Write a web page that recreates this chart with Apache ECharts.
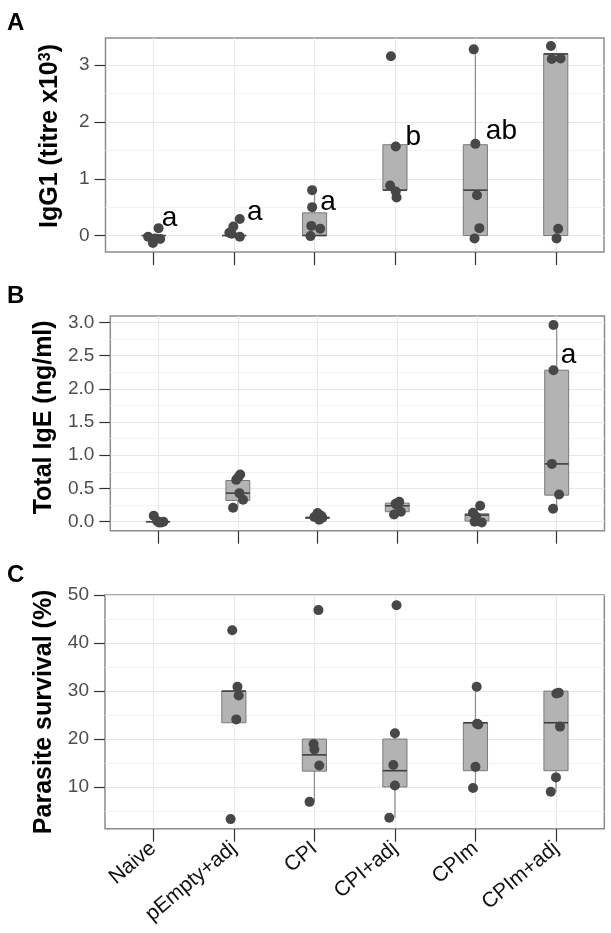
<!DOCTYPE html>
<html>
<head>
<meta charset="utf-8">
<script src="https://cdn.jsdelivr.net/npm/echarts@6/dist/echarts.min.js"></script>
<style>
html, body {margin: 0; padding: 0; background: #fff;}
#chart {width: 611px; height: 933px;}
</style>
</head>
<body>
<div id="chart"></div>
<script>
var categories = ['Naive', 'pEmpty+adj', 'CPI', 'CPI+adj', 'CPIm', 'CPIm+adj'];
var catPos = [0, 1, 2, 3, 4, 5];

// A: IgG1 titre (x10^3) -- box = [min, q1, median, q3, max]
var igg1Box = [[0, 0, 0, 0, 0], [0, 0, 0, 0, 0], [0, 0, 0, 0.4, 0.8], [0.8, 0.8, 0.8, 1.6, 1.6], [0, 0, 0.8, 1.6, 3.28], [0, 0, 3.2, 3.2, 3.2]];
var igg1Jit = [[0.06, -0.07, 0.02, -0.01, 0.08], [-0.06, -0.01, 0.07, 0.07, -0.03], [-0.03, -0.03, -0.04, 0.07, -0.05], [-0.05, 0.01, -0.06, 0.01, 0.02], [-0.02, 0, 0.02, 0.05, -0.01], [-0.06, -0.05, 0.06, 0.03, 0.01]];
var igg1Val = [[0.13, -0.02, -0.05, -0.13, -0.06], [0.05, 0.16, 0.29, -0.02, 0.03], [0.80, 0.50, 0.17, 0.12, -0.01], [3.16, 1.57, 0.88, 0.775, 0.67], [3.28, 1.615, 0.71, 0.13, -0.05], [3.34, 3.11, 3.12, 0.12, -0.05]];
var igg1Ticks = [0, 1, 2, 3];
var igg1Minor = [0.5, 1.5, 2.5];
var igg1Letters = ['a', 'a', 'a', 'b', 'ab'];
var igg1LetterX = [0.10, 1.16, 2.07, 3.13, 4.13];
var igg1LetterY = [0.306, 0.412, 0.588, 1.727, 1.833];

// B: total IgE (ng/ml)
var igeBox = [[0, 0, 0, 0, 0], [0.21, 0.32, 0.43, 0.62, 0.71], [0.05, 0.05, 0.06, 0.07, 0.07], [0.15, 0.15, 0.24, 0.28, 0.30], [0, 0.01, 0.1, 0.12, 0.24], [0.2, 0.4, 0.87, 2.28, 2.96]];
var igeJit = [[-0.055, -0.013, 0.04, 0.066, 0.01], [0.03, -0.02, 0.02, 0.065, -0.06, 0.005], [0, 0.045, 0.02, -0.04, 0.06], [0.025, 0.045, -0.04, 0, -0.02], [0.04, -0.05, -0.01, -0.03, 0.06], [-0.04, -0.04, -0.06, 0.03, -0.045]];
var igeVal = [[0.09, 0.01, -0.01, 0.0, -0.01], [0.71, 0.63, 0.43, 0.33, 0.21, 0.67], [0.13, 0.09, 0.03, 0.07, 0.06], [0.30, 0.15, 0.11, 0.25, 0.27], [0.24, 0.135, 0.075, 0.0, -0.01], [2.96, 2.28, 0.87, 0.41, 0.195]];
var igeTicks = [0, 0.5, 1, 1.5, 2, 2.5, 3];
var igeMinor = [0.25, 0.75, 1.25, 1.75, 2.25, 2.75];
var igeLetters = ['a'];
var igeLetterX = [5.05];
var igeLetterY = [2.50];

// C: parasite survival (%)
var survBox = [null, [23.4, 23.4, 30, 30, 30.9], [6.9, 13.3, 16.7, 20, 20], [3.6, 10, 13.4, 20, 21.2], [9.8, 13.4, 23.4, 23.4, 30.9], [9, 13.4, 23.4, 30, 30]];
var survJit = [[], [-0.02, 0.045, 0.06, 0.03, -0.04], [0.05, -0.01, 0, 0.06, -0.06], [0.02, 0, -0.02, 0, -0.07], [0.015, 0.035, 0.02, 0, -0.03], [0.005, 0.035, 0.05, 0, -0.065]];
var survVal = [[], [42.7, 30.9, 29.1, 24.1, 3.3], [46.9, 18.96, 17.85, 14.5, 6.9], [47.9, 21.2, 14.6, 10.3, 3.6], [30.9, 23.05, 23.2, 14.2, 9.8], [29.5, 29.65, 22.6, 12.0, 9.0]];
var survTicks = [10, 20, 30, 40, 50];
var survMinor = [5, 15, 25, 35, 45];

var FONT = '"Liberation Sans", Arial, Helvetica, sans-serif';
var chart = echarts.init(document.getElementById('chart'));

var grids = [
    {left: 105.5, top: 38, width: 498.5, height: 214},
    {left: 110.3, top: 316, width: 494.2, height: 214.7},
    {left: 105, top: 595, width: 499.3, height: 233.7}
];

function boxItem(params, api) {
    var x = api.value(0);
    var bot = api.coord([x - 0.15, api.value(2)]);
    var top = api.coord([x + 0.15, api.value(4)]);
    var mid = api.coord([x, api.value(3)]);
    var low = api.coord([x, api.value(1)]);
    var high = api.coord([x, api.value(5)]);
    var wStyle = {stroke: '#8c8c8c', lineWidth: 1.2};
    return {
        type: 'group',
        children: [
            {type: 'line', shape: {x1: low[0], y1: low[1], x2: low[0], y2: bot[1]}, style: wStyle},
            {type: 'line', shape: {x1: high[0], y1: top[1], x2: high[0], y2: high[1]}, style: wStyle},
            {type: 'rect', shape: {x: bot[0], y: top[1], width: top[0] - bot[0], height: bot[1] - top[1]},
                style: {fill: '#b3b3b3', stroke: '#7a7a7a', lineWidth: 1}},
            {type: 'line', shape: {x1: bot[0], y1: mid[1], x2: top[0], y2: mid[1]}, style: {stroke: '#3f3f3f', lineWidth: 1.6}}
        ]
    };
}

var xAxes = [], yAxes = [], series = [];

function addPanel(g, box, jit, val, ticks, minor, yMin, yMax, name, nameGap, namePad, fmt, letters, lx, ly) {
    xAxes.push({
        type: 'value', gridIndex: g, min: -0.6, max: 5.6,
        axisLine: {show: false, onZero: false},
        axisTick: {show: true, length: 13, customValues: catPos, lineStyle: {color: '#333', width: 1.2}},
        axisLabel: {
            show: g === 2, customValues: catPos, rotate: 40, margin: 17,
            fontFamily: FONT, fontSize: 21, color: '#111',
            formatter: function (v) { return categories[Math.round(v)]; }
        },
        splitLine: {show: true, lineStyle: {color: '#e8e8e8', width: 1.1}}
    });
    yAxes.push({
        type: 'value', gridIndex: g, min: yMin, max: yMax, position: 'left',
        axisLine: {show: false, onZero: false},
        axisTick: {show: true, length: 11, customValues: ticks, lineStyle: {color: '#333', width: 1.2}},
        axisLabel: {customValues: ticks, margin: 16, fontFamily: FONT, fontSize: 19, color: '#4d4d4d', formatter: fmt},
        splitLine: {show: true, lineStyle: {color: '#e8e8e8', width: 1.1}},
        name: name, nameLocation: 'middle', nameRotate: 90, nameGap: nameGap,
        nameTextStyle: {
            fontFamily: FONT, fontWeight: 'bold', fontSize: 25, color: '#000', padding: [0, 0, 0, namePad],
            rich: {sup: {fontFamily: FONT, fontWeight: 'bold', fontSize: 16, color: '#000', verticalAlign: 'top', padding: [0, 0, 10, 0]}}
        }
    });
    yAxes.push({
        type: 'value', gridIndex: g, min: yMin, max: yMax, position: 'left',
        axisLine: {show: false, onZero: false},
        axisTick: {show: false, customValues: minor},
        axisLabel: {show: false},
        splitLine: {show: true, lineStyle: {color: '#f3f3f3', width: 1}}
    });
    var boxData = [];
    var pts = [];
    for (var i = 0; i < categories.length; i++) {
        if (box[i]) boxData.push([catPos[i]].concat(box[i]));
        for (var k = 0; k < val[i].length; k++) pts.push([catPos[i] + jit[i][k], val[i][k]]);
    }
    series.push({
        type: 'custom', xAxisIndex: g, yAxisIndex: g * 2, renderItem: boxItem,
        encode: {x: 0, y: [1, 2, 3, 4, 5]}, data: boxData, z: 2, silent: true
    });
    series.push({
        type: 'scatter', xAxisIndex: g, yAxisIndex: g * 2, data: pts, symbolSize: 10,
        itemStyle: {color: '#474747', opacity: 1}, z: 3, silent: true
    });
    if (letters) {
        var ld = [];
        for (var j = 0; j < letters.length; j++) ld.push([lx[j], ly[j]]);
        series.push({
            type: 'custom', xAxisIndex: g, yAxisIndex: g * 2, data: ld, z: 4, silent: true,
            encode: {x: 0, y: 1},
            renderItem: function (params, api) {
                var p = api.coord([api.value(0), api.value(1)]);
                return {type: 'text', x: p[0], y: p[1], style: {
                    text: letters[params.dataIndex], font: '28px ' + FONT, fill: '#000',
                    align: 'left', verticalAlign: 'middle'}};
            }
        });
    }
}

addPanel(0, igg1Box, igg1Jit, igg1Val, igg1Ticks, igg1Minor, -0.29, 3.48,
    'IgG1 (titre x10{sup|3})', 42, 18, function (v) { return String(v); }, igg1Letters, igg1LetterX, igg1LetterY);
addPanel(1, igeBox, igeJit, igeVal, igeTicks, igeMinor, -0.135, 3.095,
    'Total IgE (ng/ml)', 53, 12, function (v) { return v.toFixed(1); }, igeLetters, igeLetterX, igeLetterY);
addPanel(2, survBox, survJit, survVal, survTicks, survMinor, 1.3, 50.05,
    'Parasite survival (%)', 41, 0, function (v) { return String(v); }, null);

var option = {
    animation: false,
    backgroundColor: '#fff',
    grid: grids.map(function (gr) {
        return {left: gr.left, top: gr.top, width: gr.width, height: gr.height, show: true,
            borderColor: '#8c8c8c', borderWidth: 1.5, backgroundColor: 'transparent',
            containLabel: false, outerBoundsMode: 'none'};
    }),
    xAxis: xAxes,
    yAxis: yAxes,
    series: series,
    graphic: [
        {type: 'text', left: 7, top: 11, style: {text: 'A', font: 'bold 24px ' + FONT, fill: '#000'}},
        {type: 'text', left: 7, top: 284, style: {text: 'B', font: 'bold 24px ' + FONT, fill: '#000'}},
        {type: 'text', left: 7, top: 563, style: {text: 'C', font: 'bold 24px ' + FONT, fill: '#000'}}
    ]
};
chart.setOption(option);
</script>
</body>
</html>
